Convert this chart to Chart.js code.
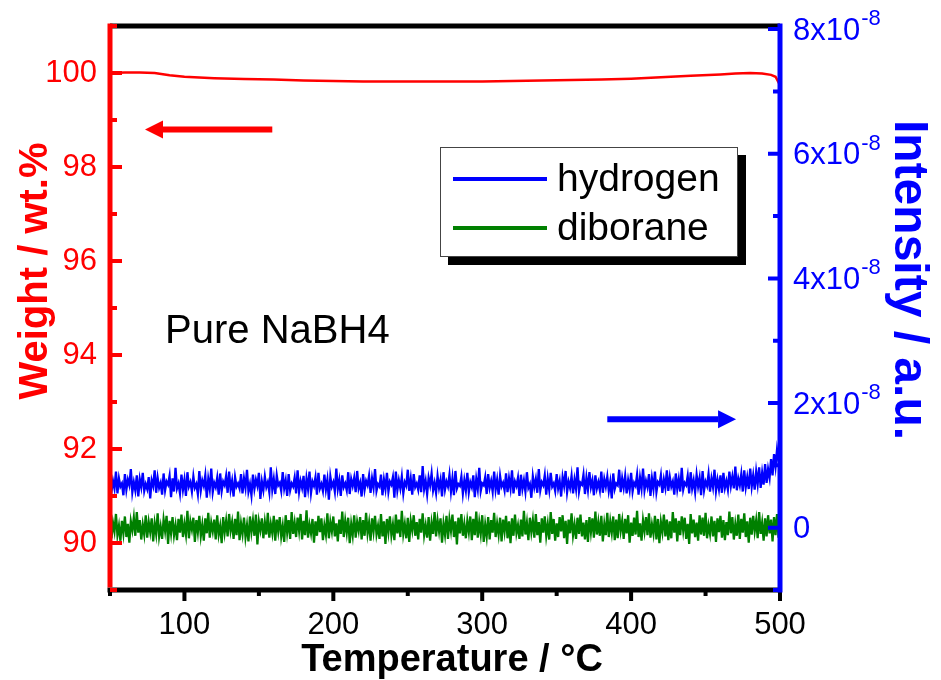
<!DOCTYPE html>
<html lang="en">
<head>
    <meta charset="UTF-8">
    <title>Pure NaBH4 TG-MS</title>
    <script src="https://cdn.jsdelivr.net/npm/chart.js"></script>
    <style>
        html, body { margin: 0; padding: 0; background: #fff; }
        #wrap { width: 941px; height: 680px; }
    </style>
</head>
<body>
    <div id="wrap"><canvas id="myChart" width="941" height="680"></canvas></div>
    <script>
        // TG curve (weight, wt.%)
        const weightTemps = [50, 60, 70, 80, 90, 100, 120, 140, 160, 180, 200, 220, 240, 260, 280, 300, 320, 340, 360, 380, 400, 420, 440, 460, 470, 480, 488, 494, 497, 500];
        const weightValues = [100.0, 100.01, 100.01, 100.0, 99.95, 99.92, 99.89, 99.87, 99.86, 99.84, 99.83, 99.82, 99.82, 99.82, 99.82, 99.82, 99.83, 99.84, 99.85, 99.86, 99.88, 99.91, 99.94, 99.97, 99.99, 100.0, 99.99, 99.96, 99.92, 99.74];

        // MS signals, one reading per degree from 50 C, values in units of 1e-10
        const msStart = 50;
        const msStep = 1;
        const hydrogen = [
            82, 58, 75, 63, 90, 55, 79, 66, 71, 52, 86, 61, 77, 68, 94,
            57, 73, 60, 84, 50, 78, 65, 88, 59, 70, 62, 81, 47, 76, 67,
            92, 56, 80, 64, 72, 53, 87, 60, 74, 69, 83, 49, 79, 58, 96,
            63, 71, 55, 85, 61, 77, 51, 89, 66, 73, 58, 82, 64, 70, 54,
            91, 60, 76, 67, 84, 48, 78, 62, 95, 57, 72, 65, 80, 53, 87,
            59, 74, 68, 83, 56, 90, 61, 75, 50, 81, 66, 71, 63, 86, 55,
            79, 64, 93, 58, 70, 52, 85, 62, 77, 67, 88, 46, 74, 60, 82,
            65, 73, 57, 97, 61, 78, 54, 84, 68, 72, 59, 89, 63, 76, 51,
            86, 60, 71, 66, 80, 55, 92, 58, 75, 64, 83, 49, 79, 62, 90,
            56, 74, 67, 81, 53, 88, 63, 70, 59, 85, 61, 77, 45, 82, 66,
            73, 58, 95, 62, 76, 51, 84, 65, 71, 60, 89, 54, 78, 67, 80,
            57, 91, 63, 72, 50, 86, 61, 75, 68, 83, 56, 79, 64, 94, 59,
            70, 66, 85, 52, 77, 62, 88, 58, 74, 69, 81, 48, 90, 60, 76,
            63, 82, 55, 73, 67, 93, 59, 78, 53, 86, 65, 71, 61, 84, 57,
            99, 62, 75, 54, 80, 68, 87, 60, 72, 56, 83, 64, 77, 50, 89,
            61, 74, 66, 85, 58, 79, 52, 91, 63, 70, 67, 82, 55, 76, 60,
            88, 57, 73, 65, 84, 49, 78, 62, 96, 59, 71, 68, 81, 54, 86,
            64, 75, 58, 90, 61, 77, 53, 83, 66, 72, 60, 87, 57, 79, 63,
            92, 55, 74, 67, 80, 51, 85, 62, 76, 58, 89, 64, 70, 48, 82,
            65, 78, 56, 94, 60, 73, 68, 84, 53, 79, 61, 88, 66, 71, 59,
            86, 63, 75, 50, 81, 67, 91, 57, 74, 64, 83, 55, 77, 62, 97,
            58, 72, 69, 85, 54, 80, 61, 89, 65, 76, 52, 84, 63, 73, 60,
            90, 56, 78, 66, 82, 59, 74, 47, 87, 62, 71, 68, 93, 57, 79,
            64, 83, 55, 76, 61, 88, 58, 72, 67, 85, 53, 80, 63, 95, 60,
            75, 65, 86, 51, 79, 62, 90, 57, 73, 69, 84, 56, 77, 64, 92,
            59, 81, 66, 74, 53, 87, 62, 78, 58, 96, 61, 72, 68, 83, 55,
            89, 63, 76, 57, 85, 66, 80, 52, 91, 60, 74, 67, 86, 58, 79,
            65, 93, 59, 77, 62, 84, 56, 88, 64, 75, 61, 90, 67, 82, 63,
            98, 60, 79, 68, 86, 58, 92, 65, 81, 62, 95, 66, 84, 61, 90,
            70, 97, 64, 88, 69, 102, 72, 94, 80, 110, 84, 118, 98, 125, 108,
            122
        ];
        const diborane = [
            14, -17, 8, -6, 22, -12, 3, -21, 11, -9, 18, -15, 6, -24, 10,
            -4, 16, -13, 25, -8, 12, -19, 5, -11, 20, -16, 9, -7, 15, -22,
            7, -10, 23, -14, 2, -18, 13, -5, 19, -26, 11, -9, 17, -12, 4,
            -20, 14, -8, 21, -15, 6, -11, 27, -17, 10, -3, 16, -23, 12, -7,
            19, -13, 5, -21, 15, -9, 24, -16, 8, -6, 13, -19, 20, -11, 3,
            -25, 17, -8, 11, -14, 22, -5, 9, -18, 14, -12, 26, -20, 7, -10,
            16, -15, 4, -22, 18, -7, 12, -13, 21, -27, 10, -4, 15, -17, 9,
            -11, 24, -16, 6, -9, 19, -21, 13, -6, 17, -14, 3, -23, 20, -8,
            12, -18, 25, -10, 8, -15, 16, -5, 22, -19, 11, -12, 28, -16, 5,
            -9, 14, -24, 10, -13, 19, -7, 15, -20, 4, -11, 23, -17, 9, -6,
            18, -14, 7, -22, 13, -10, 26, -15, 11, -8, 16, -25, 6, -12, 20,
            -16, 9, -5, 17, -19, 12, -13, 24, -9, 8, -21, 15, -6, 19, -11,
            3, -18, 22, -14, 10, -26, 14, -7, 18, -12, 5, -20, 21, -9, 13,
            -15, 27, -10, 6, -17, 16, -23, 11, -4, 20, -13, 9, -19, 14, -8,
            23, -12, 4, -16, 17, -21, 8, -10, 25, -14, 12, -6, 15, -24, 7,
            -11, 19, -18, 13, -5, 21, -15, 10, -27, 16, -9, 22, -13, 6, -17,
            11, -7, 18, -20, 14, -12, 26, -16, 9, -10, 20, -23, 5, -14, 17,
            -19, 12, -8, 24, -15, 7, -11, 16, -22, 13, -6, 19, -17, 10, -25,
            15, -13, 21, -9, 4, -18, 13, -14, 27, -11, 8, -20, 16, -7, 12,
            -16, 22, -12, 9, -24, 15, -8, 18, -13, 6, -19, 25, -10, 14, -21,
            7, -15, 17, -6, 20, -17, 11, -26, 13, -9, 23, -12, 5, -18, 16,
            -10, 21, -14, 8, -19, 12, -23, 17, -7, 15, -16, 26, -11, 9, -13,
            19, -22, 6, -12, 24, -15, 10, -8, 18, -20, 13, -17, 22, -5, 11,
            -18, 14, -9, 20, -24, 8, -13, 16, -11, 27, -15, 7, -21, 12, -6,
            17, -12, 23, -16, 5, -10, 19, -19, 14, -25, 9, -7, 21, -14, 13,
            -20, 10, -17, 25, -8, 15, -22, 11, -12, 18, -5, 16, -18, 6, -26,
            22, -9, 13, -15, 8, -21, 20, -11, 16, -13, 24, -17, 4, -10, 18,
            -14, 11, -23, 15, -7, 19, -16, 12, -20, 9, -12, 26, -9, 17, -19,
            6, -13, 21, -18, 14, -8, 23, -15, 10, -24, 16, -11, 19, -6, 12,
            -17, 25, -10, 8, -21, 15, -14, 20, -9, 13, -22, 17, -12, 22, -16,
            10
        ];

        const xTicks = [100, 200, 300, 400, 500];
        const xMinorTicks = [50, 150, 250, 350, 450];
        const weightTicks = [90, 92, 94, 96, 98, 100];
        const weightMinorTicks = [89, 91, 93, 95, 97, 99, 101];
        const intensityTicks = [0, 2, 4, 6, 8];          // x 1e-8
        const intensityMinorTicks = [-1, 1, 3, 5, 7];
        const intensityExp = '-8';

        const RED = '#ff0000', BLUE = '#0000ff', GREEN = '#008000';
        const FONT = "Arial, 'Liberation Sans', sans-serif";

        // right axis runs in units of 1e-8, the MS arrays are in 1e-10
        function msPoints(arr) {
            return arr.map((v, i) => ({ x: msStart + i * msStep, y: v / 100 }));
        }

        // keep tick labels from pushing the plot area around
        function fixBox(s, w, h) {
            if (w) s.width = w;
            if (h) s.height = h;
            s.paddingTop = 0; s.paddingBottom = 0; s.paddingLeft = 0; s.paddingRight = 0;
        }

        const decor = {
            id: 'decor',
            afterDraw(chart) {
                const ctx = chart.ctx;
                const a = chart.chartArea;
                const sx = chart.scales.x, sw = chart.scales.yW, si = chart.scales.yI;
                ctx.save();

                // frame
                ctx.lineCap = 'butt';
                ctx.lineWidth = 5;
                ctx.strokeStyle = '#000';
                ctx.beginPath();
                ctx.moveTo(a.left, a.top); ctx.lineTo(a.right, a.top);
                ctx.moveTo(a.left - 2.5, a.bottom); ctx.lineTo(a.right, a.bottom);
                ctx.stroke();

                // x ticks (outside, down)
                ctx.lineWidth = 4;
                ctx.beginPath();
                xTicks.forEach(v => { const x = sx.getPixelForValue(v); ctx.moveTo(x, a.bottom); ctx.lineTo(x, a.bottom + 11); });
                xMinorTicks.forEach(v => { const x = sx.getPixelForValue(v); ctx.moveTo(x, a.bottom); ctx.lineTo(x, a.bottom + 6); });
                ctx.stroke();

                // left axis, red
                ctx.strokeStyle = RED;
                ctx.lineWidth = 5;
                ctx.beginPath();
                ctx.moveTo(a.left, a.top - 2.5); ctx.lineTo(a.left, a.bottom - 2.5);
                ctx.stroke();
                ctx.lineWidth = 4;
                ctx.beginPath();
                weightTicks.forEach(v => { const y = sw.getPixelForValue(v); ctx.moveTo(a.left, y); ctx.lineTo(a.left + 12, y); });
                weightMinorTicks.forEach(v => { const y = sw.getPixelForValue(v); ctx.moveTo(a.left, y); ctx.lineTo(a.left + 7, y); });
                ctx.stroke();

                // right axis, blue
                ctx.strokeStyle = BLUE;
                ctx.lineWidth = 5;
                ctx.beginPath();
                ctx.moveTo(a.right, a.top - 2.5); ctx.lineTo(a.right, a.bottom + 2.5);
                ctx.stroke();
                ctx.lineWidth = 4;
                ctx.beginPath();
                intensityTicks.forEach(v => { const y = si.getPixelForValue(v); ctx.moveTo(a.right, y); ctx.lineTo(a.right - 12, y); });
                intensityMinorTicks.forEach(v => { const y = si.getPixelForValue(v); ctx.moveTo(a.right, y); ctx.lineTo(a.right - 7, y); });
                ctx.stroke();

                // right tick labels with superscript exponent
                ctx.fillStyle = BLUE;
                ctx.textAlign = 'left';
                ctx.textBaseline = 'middle';
                intensityTicks.forEach(v => {
                    const y = si.getPixelForValue(v);
                    const x0 = a.right + 13;
                    ctx.font = '31px ' + FONT;
                    if (v === 0) { ctx.fillText('0', x0, y + 2); return; }
                    const main = v + 'x10';
                    ctx.fillText(main, x0, y + 2);
                    const w = ctx.measureText(main).width;
                    ctx.font = '22px ' + FONT;
                    ctx.fillText(intensityExp, x0 + w + 1, y - 10);
                });

                // arrows
                function arrow(x1, x2, y, color, headAtStart) {
                    ctx.strokeStyle = color;
                    ctx.fillStyle = color;
                    const tip = headAtStart ? x1 : x2;
                    const tail = headAtStart ? x2 : x1;
                    const dir = headAtStart ? 1 : -1;
                    const base = tip + dir * 18;
                    ctx.lineWidth = 6;
                    ctx.beginPath();
                    ctx.moveTo(tail, y); ctx.lineTo(base, y);
                    ctx.stroke();
                    ctx.beginPath();
                    ctx.moveTo(tip, y); ctx.lineTo(base, y - 9); ctx.lineTo(base, y + 9);
                    ctx.closePath();
                    ctx.fill();
                }
                arrow(sx.getPixelForValue(73.5), sx.getPixelForValue(159), sw.getPixelForValue(98.8), RED, true);
                arrow(sx.getPixelForValue(384), sx.getPixelForValue(470.5), si.getPixelForValue(1.74), BLUE, false);

                // sample label
                ctx.fillStyle = '#000';
                ctx.font = '40px ' + FONT;
                ctx.textAlign = 'left';
                ctx.textBaseline = 'alphabetic';
                ctx.fillText('Pure NaBH4', sx.getPixelForValue(87), sw.getPixelForValue(94.25));

                // legend box with shadow
                const lx = 440, ly = 147, lw = 298, lh = 110;
                ctx.fillStyle = '#000';
                ctx.fillRect(lx + 8, ly + 8, lw, lh);
                ctx.fillStyle = '#fff';
                ctx.fillRect(lx, ly, lw, lh);
                ctx.strokeStyle = '#444';
                ctx.lineWidth = 1;
                ctx.strokeRect(lx + 0.5, ly + 0.5, lw - 1, lh - 1);
                chart.data.datasets.slice(1).forEach((ds, i) => {
                    const y = ly + 32 + i * 49;
                    ctx.strokeStyle = ds.borderColor;
                    ctx.lineWidth = 4;
                    ctx.beginPath();
                    ctx.moveTo(lx + 13, y); ctx.lineTo(lx + 107, y);
                    ctx.stroke();
                    ctx.fillStyle = '#000';
                    ctx.font = '39px ' + FONT;
                    ctx.textBaseline = 'middle';
                    ctx.fillText(ds.label, lx + 117, y + 1);
                });

                // axis titles
                ctx.textAlign = 'center';
                ctx.textBaseline = 'alphabetic';
                ctx.fillStyle = '#000';
                ctx.font = 'bold 38px ' + FONT;
                ctx.fillText('Temperature / \u00b0C', 452, 671);

                ctx.save();
                ctx.translate(47, 271);
                ctx.rotate(-Math.PI / 2);
                ctx.fillStyle = RED;
                ctx.font = 'bold 40px ' + FONT;
                ctx.fillText('Weight / wt.%', 0, 0);
                ctx.restore();

                ctx.save();
                ctx.translate(895, 280);
                ctx.rotate(Math.PI / 2);
                ctx.fillStyle = BLUE;
                ctx.font = 'bold 48px ' + FONT;
                ctx.fillText('Intensity / a.u.', 0, 0);
                ctx.restore();

                ctx.restore();
            }
        };

        const ctx = document.getElementById('myChart').getContext('2d');
        const myChart = new Chart(ctx, {
            type: 'line',
            data: {
                datasets: [{
                    label: 'weight',
                    data: weightTemps.map((t, i) => ({ x: t, y: weightValues[i] })),
                    yAxisID: 'yW',
                    borderColor: RED,
                    borderWidth: 2.5,
                    pointRadius: 0,
                    tension: 0
                }, {
                    label: 'hydrogen',
                    data: msPoints(hydrogen),
                    yAxisID: 'yI',
                    borderColor: BLUE,
                    borderWidth: 2.3,
                    pointRadius: 0,
                    tension: 0
                }, {
                    label: 'diborane',
                    data: msPoints(diborane),
                    yAxisID: 'yI',
                    borderColor: GREEN,
                    borderWidth: 2.3,
                    pointRadius: 0,
                    tension: 0
                }]
            },
            options: {
                responsive: false,
                animation: false,
                events: [],
                layout: { padding: { top: 26, left: 0, right: 0, bottom: 0 } },
                plugins: {
                    legend: { display: false },
                    tooltip: { enabled: false }
                },
                scales: {
                    x: {
                        type: 'linear',
                        position: 'bottom',
                        min: 50,
                        max: 500,
                        grid: { display: false, drawTicks: false },
                        border: { display: false },
                        ticks: { color: '#000', font: { size: 31, family: FONT }, padding: 17, maxRotation: 0 },
                        afterBuildTicks: s => { s.ticks = xTicks.map(v => ({ value: v })); },
                        afterFit: s => fixBox(s, 0, 90)
                    },
                    yW: {
                        type: 'linear',
                        position: 'left',
                        min: 89,
                        max: 101,
                        grid: { display: false, drawTicks: false },
                        border: { display: false },
                        ticks: { color: RED, font: { size: 31, family: FONT }, padding: 13 },
                        afterBuildTicks: s => { s.ticks = weightTicks.map(v => ({ value: v })); },
                        afterFit: s => fixBox(s, 110, 0)
                    },
                    yI: {
                        type: 'linear',
                        position: 'right',
                        min: -1,
                        max: 8.05,
                        grid: { display: false, drawTicks: false },
                        border: { display: false },
                        ticks: { display: false },
                        afterBuildTicks: s => { s.ticks = intensityTicks.map(v => ({ value: v })); },
                        afterFit: s => fixBox(s, 161, 0)
                    }
                }
            },
            plugins: [decor]
        });
    </script>
</body>
</html>
